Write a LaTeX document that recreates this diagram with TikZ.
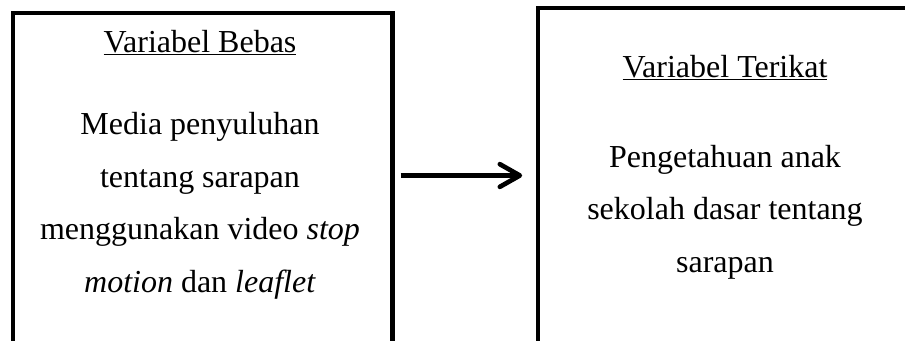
\documentclass[tikz,border=0pt]{standalone}
\usepackage{fontspec}
\setmainfont{Liberation Serif}
\usetikzlibrary{arrows.meta,positioning}
\tikzstyle{varbox} = [rectangle, draw=black, line width=3.2pt, anchor=north west, inner sep=0pt]
\tikzstyle{vartext} = [anchor=base, inner sep=0pt, align=center, font=\fontsize{24}{39.3}\selectfont]
\tikzstyle{arrow} = [line width=3.5pt, -{Straight Barb[length=15pt,width=17pt,round]}]

\begin{document}
\begin{tikzpicture}[x=0.75pt, y=-0.75pt]
\useasboundingbox (0,0) rectangle (905,340);
% Boxes
\node[varbox, minimum width=284.6pt, minimum height=247.9pt] (bebas) at (11,10.5) {};
\node[varbox, minimum width=288.4pt, minimum height=251.3pt] (terikat) at (535.5,6) {};

% Texts left
\node[vartext] (bebastitle) at (200,52) {\underline{Variabel Bebas}};
\node[vartext] (bebasbody) at (200,292) {Media penyuluhan\\ tentang sarapan\\ menggunakan video \textit{stop}\\ \textit{motion} dan \textit{leaflet}};

% Texts right
\node[vartext] (terikattitle) at (725,77) {\underline{Variabel Terikat}};
\node[vartext] (terikatbody) at (725,272) {Pengetahuan anak\\ sekolah dasar tentang\\ sarapan};

% Arrow
\draw[arrow] ([xshift=4.5pt]bebas.east |- 0,175.5) -- ([xshift=-10pt]terikat.west |- 0,175.5);
\end{tikzpicture}
\end{document}
